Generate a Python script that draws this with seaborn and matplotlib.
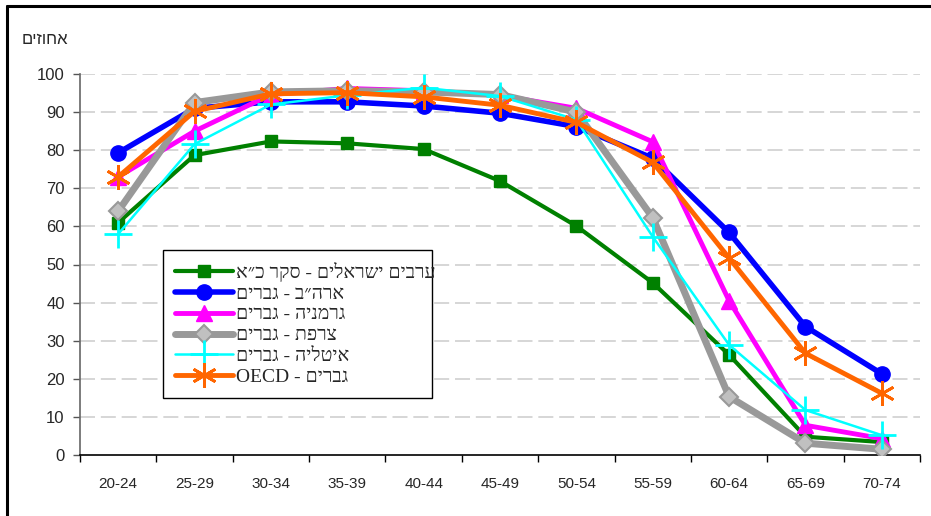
import matplotlib
matplotlib.use("Agg")
import matplotlib.pyplot as plt
import seaborn as sns
import pandas as pd
from matplotlib.ticker import FixedLocator

ages = ["20-24", "25-29", "30-34", "35-39", "40-44", "45-49", "50-54",
        "55-59", "60-64", "65-69", "70-74"]

arab_israel = [61, 78.7, 82.3, 81.8, 80.3, 71.9, 60.1, 45.2, 26.3, 4.8, 3.4]
usa = [79.3, 91.0, 92.7, 92.7, 91.6, 89.7, 86.2, 77.9, 58.4, 33.7, 21.3]
germany = [73.0, 85.0, 94.6, 96.2, 95.6, 94.4, 91.0, 82.2, 40.5, 7.8, 4.3]
france = [64.0, 92.5, 95.3, 95.6, 95.3, 94.6, 90.0, 62.3, 15.3, 3.1, 1.5]
italy = [58.0, 81.6, 92.0, 94.4, 96.4, 94.2, 88.0, 57.3, 28.9, 11.8, 5.2]
oecd = [73.0, 90.2, 94.8, 95.1, 94.0, 91.8, 87.3, 76.8, 51.7, 26.7, 16.2]

labels = ["ערבים ישראלים - סקר כ״א", "ארה״ב - גברים", "גרמניה - גברים",
          "צרפת - גברים", "איטליה - גברים", "גברים - OECD"]
y_label = "אחוזים"
y_ticks = [0, 10, 20, 30, 40, 50, 60, 70, 80, 90, 100]


def vis(s):
    # matplotlib has no bidi: reverse RTL logical text for visual order
    if "OECD" in s:
        return "OECD - " + "גברים"[::-1]
    return s[::-1]


sns.set_theme(style="white")
plt.rcParams["font.family"] = ["Liberation Sans", "DejaVu Sans"]

fig = plt.figure(figsize=(9.31, 5.16), dpi=100)
ax = fig.add_axes([80 / 931, (516 - 455) / 516, 840 / 931, (455 - 74) / 516])

series = [arab_israel, usa, germany, france, italy, oecd]
styles = [
    dict(color="#008000", lw=3, marker="s", ms=8, mfc="#008000", mec="#008000", mew=1),
    dict(color="#0000FF", lw=4, marker="o", ms=11, mfc="#0000FF", mec="#0000FF", mew=1),
    dict(color="#FF00FF", lw=3.5, marker="^", ms=12, mfc="#FF00FF", mec="#FF00FF", mew=1),
    dict(color="#999999", lw=5, marker="D", ms=9, mfc="#C0C0C0", mec="#999999", mew=1.5),
    dict(color="#00FFFF", lw=1.8, marker="+", ms=20, mfc="#00FFFF", mec="#00FFFF", mew=2),
    dict(color="#FF6600", lw=3.5, marker=(6, 2, 0), ms=18, mfc="#FF6600", mec="#FF6600", mew=2),
]

for vals, lab, st in zip(series, labels, styles):
    df = pd.DataFrame({"age": ages, "value": vals})
    sns.lineplot(data=df, x="age", y="value", ax=ax, label=vis(lab),
                 sort=False, color=st["color"], linewidth=st["lw"],
                 marker=st["marker"], markersize=st["ms"],
                 markerfacecolor=st["mfc"], markeredgecolor=st["mec"],
                 markeredgewidth=st["mew"], zorder=3)

ax.set_xlim(-0.5, len(ages) - 0.5)
ax.set_ylim(0, 100)
ax.set_yticks(y_ticks)
ax.set_yticklabels([str(t) for t in y_ticks], fontsize=12)
ax.set_xticks(range(len(ages)))
ax.set_xticklabels(ages, fontsize=11)
ax.xaxis.set_minor_locator(FixedLocator([i - 0.5 for i in range(len(ages) + 1)]))
ax.tick_params(axis="x", which="major", length=0, pad=16)
ax.tick_params(axis="x", which="minor", length=5, width=1, color="black", direction="out", bottom=True)
ax.tick_params(axis="y", which="major", length=5, width=1, color="#555555", direction="out", left=True, pad=6)
ax.set_xlabel("")
ax.set_ylabel("")

for y in y_ticks[1:]:
    ax.axhline(y, color="#D0D0D0", lw=1.2, ls=(0, (9, 3.5)), zorder=1)

for s in ["top", "right"]:
    ax.spines[s].set_visible(False)
ax.spines["left"].set_color("#666666")
ax.spines["left"].set_linewidth(1.2)
ax.spines["bottom"].set_color("black")
ax.spines["bottom"].set_linewidth(1.2)

fig.text(45 / 931, 1 - 40 / 516, vis(y_label), fontsize=12, ha="center", va="center",
         family=["Liberation Sans", "DejaVu Sans"])

leg = ax.legend(loc="lower left", bbox_to_anchor=(0.099, 0.15, 0.32, 0.4),
                mode="expand", frameon=True, fancybox=False, framealpha=1,
                edgecolor="black", handlelength=3.0, borderaxespad=0,
                labelspacing=0.17, borderpad=0.6, handletextpad=0.15,
                prop={"family": ["Liberation Serif", "DejaVu Sans"], "size": 14})
leg.get_frame().set_linewidth(1.0)
leg.set_zorder(5)

# outer frame lines (left and top)
fig.add_artist(plt.Line2D([7 / 931, 7 / 931], [0, 1 - 6 / 516], color="black", lw=2.2,
                          transform=fig.transFigure))
fig.add_artist(plt.Line2D([7 / 931, 1], [1 - 6 / 516, 1 - 6 / 516], color="black", lw=2.2,
                          transform=fig.transFigure))

fig.savefig("out.png", dpi=100)
